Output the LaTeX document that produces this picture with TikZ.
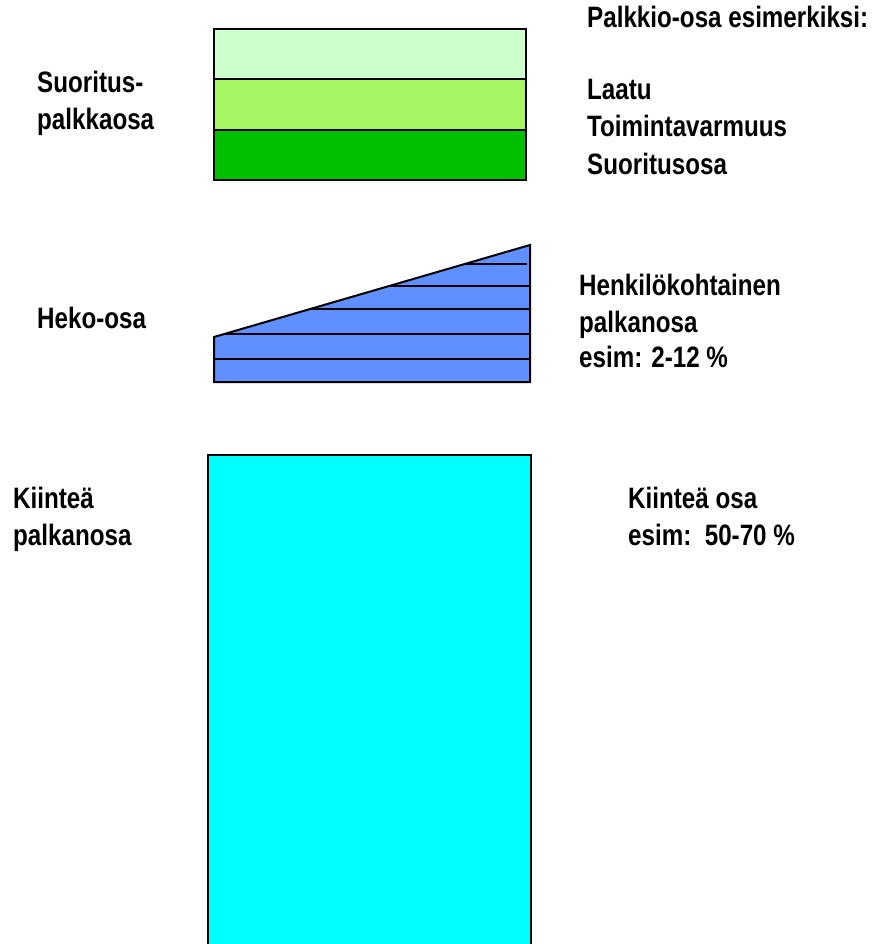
\documentclass[tikz,border=0pt]{standalone}
\usepackage{fontspec}
\setmainfont{Liberation Sans}[FakeStretch=0.82]
\definecolor{lgreen}{RGB}{204,255,204}
\definecolor{mgreen}{RGB}{166,245,98}
\definecolor{dgreen}{RGB}{0,192,0}
\definecolor{hekoblue}{RGB}{96,144,255}
\definecolor{fixcyan}{RGB}{0,255,255}
\begin{document}
\begin{tikzpicture}[x=1pt,y=-1pt,
  lab/.style={anchor=base west,inner sep=0pt,font=\fontsize{29.5}{37}\selectfont\bfseries},
  part/.style={draw=black,line width=2pt},
  hline/.style={draw=black,line width=2pt}]
\useasboundingbox (0,0) rectangle (874,944);
\clip (0,0) rectangle (874,944);
% Suoritus-palkkaosa
\draw[part,fill=lgreen] (214,29) rectangle (526,79);
\draw[part,fill=mgreen] (214,79) rectangle (526,130);
\draw[part,fill=dgreen] (214,130) rectangle (526,180);
% Heko-osa
\coordinate (hbl) at (214,382);
\coordinate (hbr) at (530,382);
\coordinate (htr) at (530,245);
\coordinate (htl) at (214,337);
\draw[part,fill=hekoblue,line join=miter] (hbl) -- (hbr) -- (htr) -- (htl) -- cycle;
\draw[hline] (214,359) -- (530,359);
\draw[hline] (224,334) -- (530,334);
\draw[hline] (310,309) -- (530,309);
\draw[hline] (389,286) -- (530,286);
\draw[hline] (465,264) -- (527,264);
% Kiinteä palkanosa
\draw[part,fill=fixcyan] (208,455) rectangle (531,960);
% Left labels
\node[lab] (s1) at (37,93) {Suoritus-};
\node[lab] (s2) at (37,130) {palkkaosa};
\node[lab] (h1) at (37,328) {Heko-osa};
\node[lab] (k1) at (13,508) {Kiinteä};
\node[lab] (k2) at (13,545) {palkanosa};
% Right labels
\node[lab] (p0) at (587,28) {Palkkio-osa esimerkiksi:};
\node[lab] (p1) at (587,100) {Laatu};
\node[lab] (p2) at (587,137) {Toimintavarmuus};
\node[lab] (p3) at (587,175) {Suoritusosa};
\node[lab] (e1) at (579,295) {Henkilökohtainen};
\node[lab] (e2) at (579,332) {palkanosa};
\node[lab] (e3) at (579,367) {esim: 2-12 \%};
\node[lab] (f1) at (628,508) {Kiinteä osa};
\node[lab] (f2) at (628,545) {esim:\ \ 50-70 \%};
\end{tikzpicture}
\end{document}
